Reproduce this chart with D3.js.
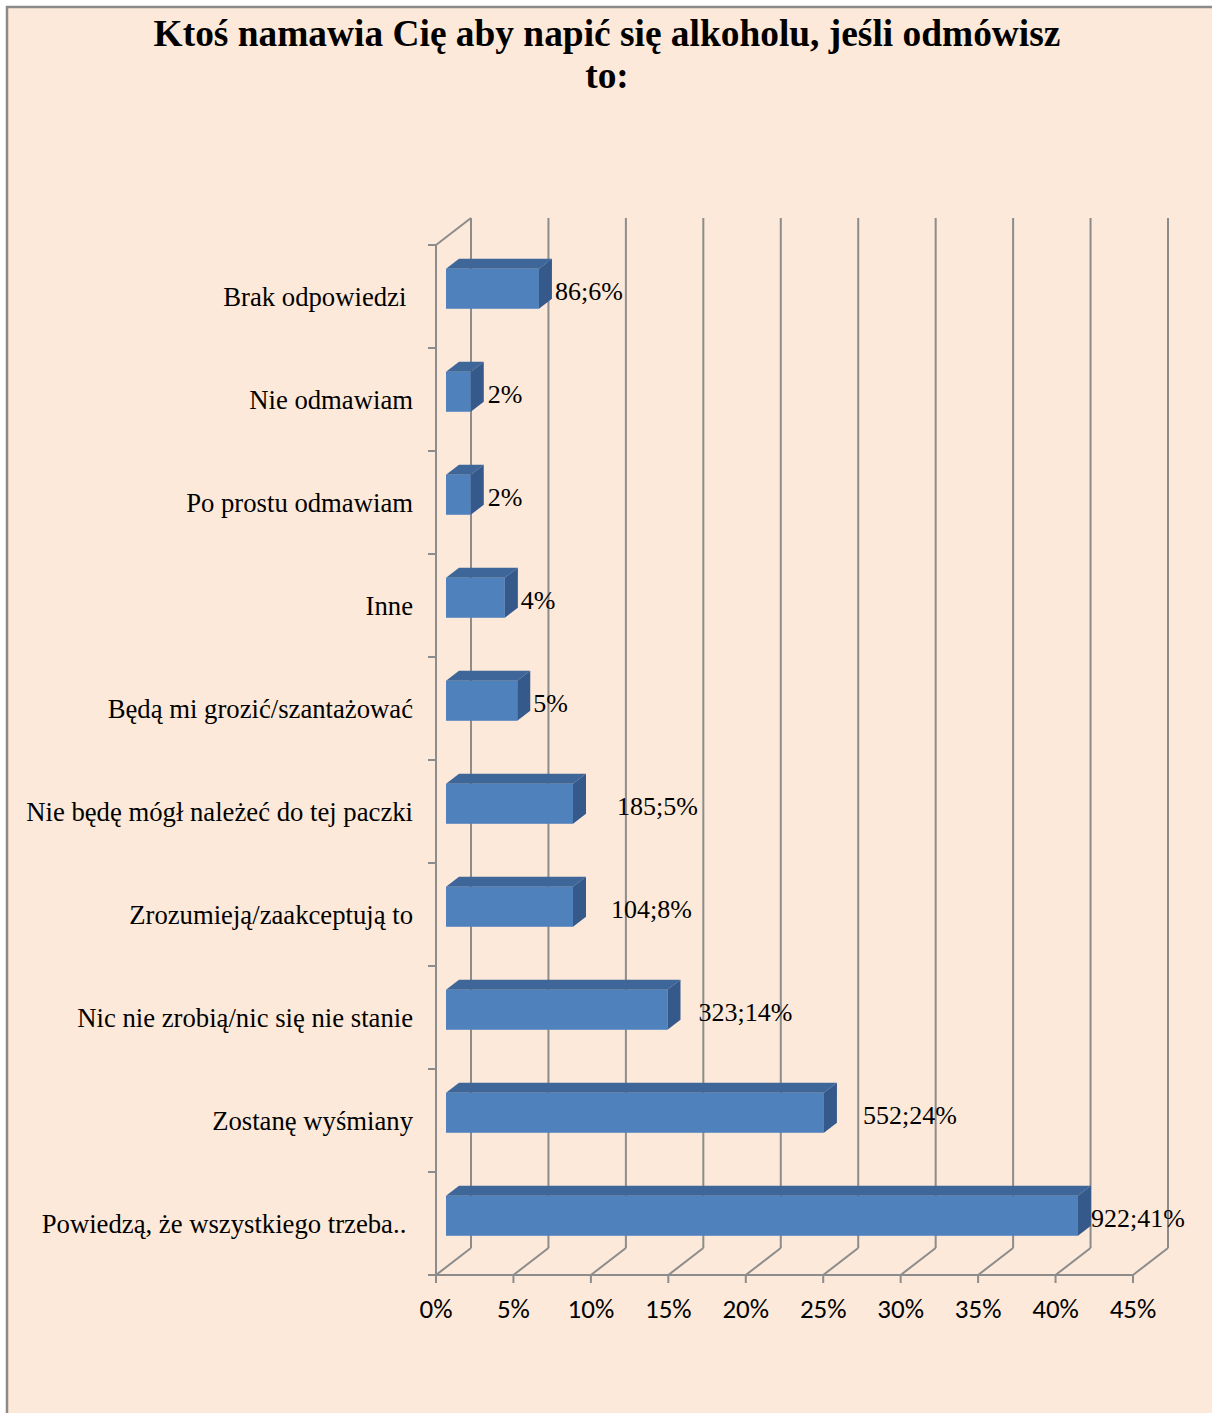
<!DOCTYPE html>
<html>
<head>
<meta charset="utf-8">
<script src="https://cdn.jsdelivr.net/npm/d3@7"></script>
<style>
  html, body { margin: 0; padding: 0; background: #fff; }
  svg { display: block; }
  .cat { font-family: "Liberation Serif", "Times New Roman", serif; font-size: 26.7px; fill: #000; white-space: pre; }
  .lbl { font-family: "Liberation Serif", "Times New Roman", serif; font-size: 26px; fill: #000; }
  .tick { font-family: Carlito, Lato, sans-serif; font-size: 27px; fill: #000; }
  .title { font-family: "Liberation Serif", "Times New Roman", serif; font-size: 37.4px; font-weight: bold; fill: #000; }
</style>
</head>
<body>
<svg id="chart" width="1212" height="1413"></svg>
<script>
// chart data (top row first)
const categories = [
  "Brak odpowiedzi ",
  "Nie odmawiam",
  "Po prostu odmawiam",
  "Inne",
  "Będą mi grozić/szantażować",
  "Nie będę mógł należeć do tej paczki",
  "Zrozumieją/zaakceptują to",
  "Nic nie zrobią/nic się nie stanie",
  "Zostanę wyśmiany",
  "Powiedzą, że wszystkiego trzeba.. "
];
const values = [6.0, 1.6, 1.6, 3.8, 4.6, 8.2, 8.2, 14.3, 24.4, 40.8];
const labels = ["86;6%", "2%", "2%", "4%", "5%", "185;5%", "104;8%", "323;14%", "552;24%", "922;41%"];
const ticks = [0, 5, 10, 15, 20, 25, 30, 35, 40, 45];
const titleLines = ["Ktoś namawia Cię aby napić się alkoholu, jeśli odmówisz", "to:"];

// layout
const DX = 35, DY = -27;          // full depth offset of the 3d box
const D0 = 0.286, D1 = 0.657;     // bar depth range
const BAR_H = 40;
const labelGap = [3, 4, 4, 3, 3, 31, 25, 18, 26, 0];
const gridColor = "#8c8c8c";

const svg = d3.select("#chart");

svg.append("rect")
  .attr("x", 7).attr("y", 7).attr("width", 1400).attr("height", 1600)
  .attr("fill", "#fde9d9").attr("stroke", "#8a8a8a").attr("stroke-width", 2.5);

svg.selectAll(".title").data(titleLines).join("text")
  .attr("class", "title")
  .attr("x", 607).attr("y", (d, i) => 46 + i * 42)
  .attr("text-anchor", "middle")
  .text(d => d);

const x = d3.scaleLinear().domain([0, 45]).range([436, 1133]);
const y = d3.scaleBand().domain(categories).range([245, 1275]).padding(0);
const yTop = y.range()[0], yBot = y.range()[1];

const g = svg.append("g");

// back wall gridlines
g.selectAll(".grid").data(ticks).join("line")
  .attr("x1", d => x(d) + DX).attr("x2", d => x(d) + DX)
  .attr("y1", yTop + DY).attr("y2", yBot + DY)
  .attr("stroke", gridColor).attr("stroke-width", 2);

// floor diagonals
g.selectAll(".floor").data(ticks).join("line")
  .attr("x1", d => x(d)).attr("x2", d => x(d) + DX)
  .attr("y1", yBot).attr("y2", yBot + DY)
  .attr("stroke", gridColor).attr("stroke-width", 2);

// front axis, left wall, ticks
g.append("line").attr("x1", x(0)).attr("x2", x(45)).attr("y1", yBot).attr("y2", yBot)
  .attr("stroke", gridColor).attr("stroke-width", 2);
g.append("line").attr("x1", x(0)).attr("x2", x(0)).attr("y1", yTop).attr("y2", yBot)
  .attr("stroke", gridColor).attr("stroke-width", 2);
g.append("line").attr("x1", x(0)).attr("x2", x(0) + DX).attr("y1", yTop).attr("y2", yTop + DY)
  .attr("stroke", gridColor).attr("stroke-width", 2);

const bounds = categories.map(c => y(c)).concat([yBot]);
g.selectAll(".ytick").data(bounds).join("line")
  .attr("x1", x(0) - 8).attr("x2", x(0)).attr("y1", d => d).attr("y2", d => d)
  .attr("stroke", gridColor).attr("stroke-width", 2);
g.selectAll(".xtick").data(ticks).join("line")
  .attr("x1", d => x(d)).attr("x2", d => x(d)).attr("y1", yBot).attr("y2", yBot + 8)
  .attr("stroke", gridColor).attr("stroke-width", 2);

g.selectAll(".tick").data(ticks).join("text")
  .attr("class", "tick")
  .attr("x", d => x(d)).attr("y", 1318)
  .attr("text-anchor", "middle")
  .text(d => d + "%");

// bars
const bw = (D1 - D0) * DX, bh = (D1 - D0) * DY;
const bars = g.selectAll(".bar").data(categories.map((c, i) => ({ c, v: values[i], i }))).join("g");

bars.each(function (d) {
  const sel = d3.select(this);
  const x0 = x(0) + D0 * DX, x1 = x(d.v) + D0 * DX;
  const yt = y(d.c) + y.bandwidth() / 2 - BAR_H / 2 + D0 * DY;
  const yb = yt + BAR_H;
  sel.append("rect").attr("x", x0).attr("y", yt).attr("width", x1 - x0).attr("height", BAR_H)
    .attr("fill", "#4f81bd");
  sel.append("path")
    .attr("d", `M${x0},${yt}L${x1},${yt}L${x1 + bw},${yt + bh}L${x0 + bw},${yt + bh}Z`)
    .attr("fill", "#3e6699");
  sel.append("path")
    .attr("d", `M${x1},${yt}L${x1 + bw},${yt + bh}L${x1 + bw},${yb + bh}L${x1},${yb}Z`)
    .attr("fill", "#34598a");
  sel.append("text").attr("class", "lbl")
    .attr("x", x1 + bw + labelGap[d.i]).attr("y", yt + BAR_H / 2 + 2)
    .attr("dy", "0.35em")
    .text(labels[d.i]);
});

// category labels
g.selectAll(".cat").data(categories).join("text")
  .attr("class", "cat")
  .attr("x", 413).attr("y", d => y(d) + y.bandwidth() / 2)
  .attr("dy", "0.35em")
  .attr("text-anchor", "end")
  .text(d => d);
</script>
</body>
</html>
